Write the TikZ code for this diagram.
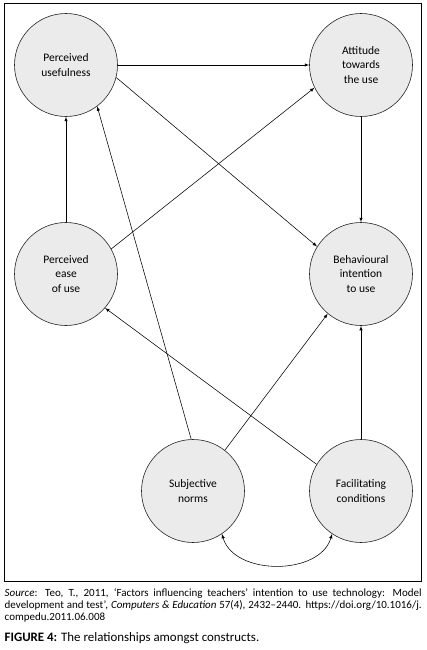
\documentclass[tikz,border=0pt]{standalone}
\usepackage{fontspec}
\setmainfont{Carlito}
\usetikzlibrary{arrows, positioning}
\definecolor{cfill}{HTML}{EBEBEB}

\begin{document}
\begin{tikzpicture}[x=1pt, y=-1pt, font=\fontsize{11.5}{14.5}\selectfont,
  construct/.style={circle, draw=black!85, fill=cfill, line width=0.6pt,
                    minimum size=103pt, inner sep=0pt, align=center},
  link/.style={-latex, line width=0.55pt}]

  % x and y positions in pixels from the top left corner
  \def\xL{66}
  \def\xSN{193}
  \def\xR{361}
  \def\yTop{65}
  \def\yMid{274}
  \def\yBot{491}

  \useasboundingbox (0,0) rectangle (427,650);

  % Outer frame
  \draw[line width=0.9pt] (4.5,3) rectangle (421.5,581);

  % Constructs
  \node[construct] (pu)   at (\xL, \yTop) {Perceived\\usefulness};
  \node[construct] (atu)  at (\xR, \yTop) {Attitude\\towards\\the use};
  \node[construct] (peou) at (\xL, \yMid) {Perceived\\ease\\of use};
  \node[construct] (bi)   at (\xR, \yMid) {Behavioural\\intention\\to use};
  \node[construct] (sn)   at (\xSN, \yBot) {Subjective\\norms};
  \node[construct] (fc)   at (\xR, \yBot) {Facilitating\\conditions};

  % Paths between constructs
  \draw[link] (pu) -- (atu);
  \draw[link] (pu.-14) -- (bi.148);
  \draw[link] (atu) -- (bi);
  \draw[link] (peou) -- (pu);
  \draw[link] (peou.29) -- (atu.206);
  \draw[link] (sn.92) -- (pu.-53);
  \draw[link] (sn.52) -- (bi.230);
  \draw[link] (fc.149) -- (peou.-41);
  \draw[link] (fc) -- (bi);

  % Correlation between norms and conditions
  \draw[latex-latex, line width=0.55pt]
    (sn.-56) .. controls +(12,42) and +(-12,42) .. (fc.-124);

  % Source note and caption
  \node[anchor=north west, inner sep=0pt, text width=417pt, align=justify,
        font=\fontsize{11}{12.2}\selectfont] (src) at (4.5,588)
    {\textit{Source}: Teo, T., 2011, ‘Factors influencing teachers’ intention to use technology: Model\linebreak
     development and test’, \textit{Computers \& Education} 57(4), 2432--2440. https://doi.org/10.1016/j.\linebreak
     compedu.2011.06.008};
  \node[anchor=base west, inner sep=0pt, font=\fontsize{12.9}{14}\selectfont] (cap) at (4.5,641)
    {\textbf{FIGURE 4:} The relationships amongst constructs.};

\end{tikzpicture}
\end{document}
